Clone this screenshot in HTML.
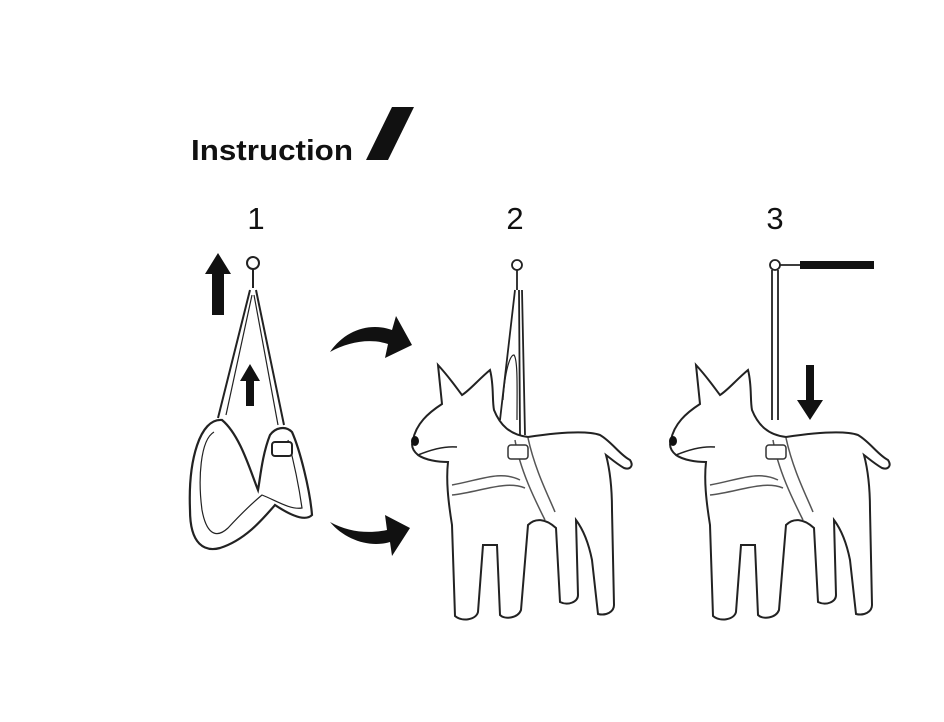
<!DOCTYPE html>
<html><head><style>
html,body{margin:0;padding:0;background:#fff;}
svg{display:block;}
</style></head><body>
<svg width="944" height="722" viewBox="0 0 944 722" xmlns="http://www.w3.org/2000/svg">
<rect width="944" height="722" fill="#fff"/>
<text x="191" y="160" font-family="Liberation Sans, sans-serif" font-weight="bold" font-size="29" fill="#111" textLength="162" lengthAdjust="spacingAndGlyphs">Instruction</text>
<polygon points="366,160 392,107 414,107 388,160" fill="#111"/>
<g font-family="Liberation Sans, sans-serif" font-size="31" fill="#111" text-anchor="middle">
<text x="256" y="229">1</text><text x="515" y="229">2</text><text x="775" y="229">3</text>
</g>
<!-- step 1 harness -->
<g fill="none" stroke="#222" stroke-width="2">
<circle cx="253" cy="263" r="6" fill="#fff"/>
<line x1="253" y1="269" x2="253" y2="288"/>
<path d="M250,290 L218,418 M256,290 L284,425"/>
<path d="M252,295 L226,415 M254,295 L278,425" stroke-width="1.2"/>
<path d="M222,420 C200,418 188,460 190,510 C190,545 205,552 220,548 C245,540 262,520 275,505 C290,515 305,522 312,515 C310,490 300,450 292,432 C285,425 275,428 270,435 C262,455 260,480 258,490 C250,470 240,435 222,420 Z" stroke-width="2.2"/>
<path d="M214,432 C200,440 198,480 202,510 C206,532 215,540 228,528 C240,515 250,505 262,495 C275,500 290,510 302,508 C298,480 292,455 288,440" stroke-width="1.2"/>
<rect x="272" y="442" width="20" height="14" rx="3" fill="#fff"/>
</g>
<polygon points="218,253 205,274 212,274 212,315 224,315 224,274 231,274" fill="#111"/>
<polygon points="250,364 240,381 246,381 246,406 254,406 254,381 260,381" fill="#111"/>
<!-- curved arrows -->
<path d="M330,352 C345,330 370,322 392,330 L396,316 L412,345 L385,358 L388,344 C370,338 348,342 330,352 Z" fill="#111"/>
<path d="M330,522 C345,540 370,548 390,542 L392,556 L410,528 L385,515 L387,530 C368,534 348,532 330,522 Z" fill="#111"/>
<defs>
<g id="dog">
<path d="M413,440 C416,424 428,413 442,404 L438,365 C450,378 458,390 462,395 C470,390 478,380 490,370 C494,385 492,400 494,410 C500,425 510,435 528,437 C555,433 585,430 600,435 C612,442 620,455 630,460 C634,466 630,470 624,468 C617,464 610,458 606,455 C610,470 612,490 612,510 L614,605 C614,612 606,616 598,614 L592,560 C588,540 582,528 576,520 L578,595 C578,602 568,606 560,602 L556,528 C545,518 535,518 528,525 L521,610 C518,618 505,620 500,615 L497,545 L483,545 L478,612 C476,620 462,622 455,616 L452,525 C448,500 446,480 448,462 C438,462 425,460 418,455 C412,450 411,445 413,440 Z" fill="#fff" stroke="#222" stroke-width="2"/>
<path d="M418,455 C430,450 445,446 457,447" fill="none" stroke="#222" stroke-width="1.5"/>
<ellipse cx="415" cy="441" rx="4" ry="5" fill="#111"/>
<path d="M452,485 C480,480 500,470 520,480 M452,495 C480,492 505,480 525,488" fill="none" stroke="#555" stroke-width="1.5"/>
<path d="M515,440 C520,470 535,500 545,520 M528,438 C535,470 548,495 555,512" fill="none" stroke="#555" stroke-width="1.5"/>
<rect x="508" y="445" width="20" height="14" rx="3" fill="#fff" stroke="#333" stroke-width="1.5"/>
</g>
</defs>
<use href="#dog"/>
<use href="#dog" transform="translate(258,0)"/>
<!-- step 2 straps -->
<g fill="none" stroke="#222" stroke-width="1.8">
<circle cx="517" cy="265" r="5" fill="#fff"/>
<path d="M517,270 L517,290 M515,290 L500,420 M519,290 L520,435 M522,290 L525,435"/>
<path d="M503,400 C505,370 510,355 514,355 C518,360 517,390 517,420" stroke-width="1.2"/>
</g>
<!-- step 3 leash -->
<g fill="none" stroke="#222" stroke-width="1.8">
<circle cx="775" cy="265" r="5" fill="#fff"/>
<path d="M772,270 L772,420 M778,270 L778,420"/>
<path d="M780,265 L800,265"/>
</g>
<rect x="800" y="261" width="74" height="8" fill="#111"/>
<polygon points="806,365 806,400 797,400 810,420 823,400 814,400 814,365" fill="#111"/>
</svg>
</body></html>
